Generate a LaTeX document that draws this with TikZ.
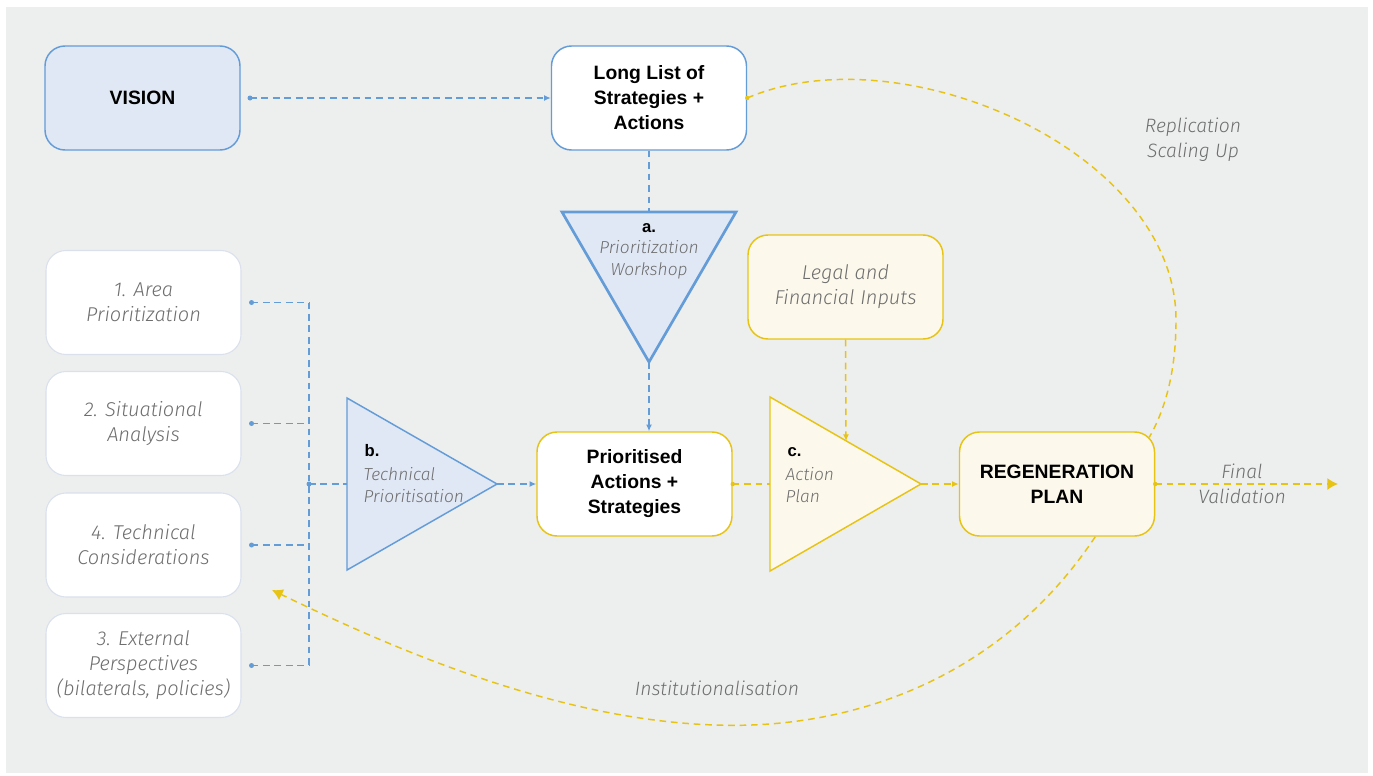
\documentclass[tikz,border=0pt]{standalone}
\usepackage{fontspec}
\setmainfont{Liberation Sans}
\newfontfamily\lightfont{Fira Sans Light}
\usetikzlibrary{arrows.meta,calc}
\definecolor{bgc}{RGB}{237,238,238}
\definecolor{myblue}{RGB}{100,156,216}
\definecolor{lightblue}{RGB}{225,232,245}
\definecolor{myyellow}{RGB}{231,196,20}
\definecolor{cream}{RGB}{252,249,236}
\definecolor{greytext}{RGB}{110,110,110}
\definecolor{paleborder}{RGB}{218,224,236}
\tikzset{
  box/.style={rounded corners=15pt, minimum width=146.25pt, minimum height=78pt, line width=1.1pt, align=center, inner sep=0pt},
  bluebox/.style={box, draw=myblue, fill=lightblue},
  whitebluebox/.style={box, draw=myblue, fill=white},
  palebox/.style={box, draw=paleborder, line width=0.8pt, fill=white},
  yelbox/.style={box, draw=myyellow, fill=cream},
  whiteyelbox/.style={box, draw=myyellow, fill=white},
  bt/.style={font=\bfseries\fontsize{14.5}{18.75}\selectfont, text=black},
  it/.style={font=\lightfont\itshape\fontsize{15}{18.75}\selectfont, text=greytext, align=center},
  lit/.style={font=\lightfont\itshape\fontsize{14.5}{18.75}\selectfont, text=greytext, align=center},
  tit/.style={font=\lightfont\itshape\fontsize{13}{16.5}\selectfont, text=greytext},
  tbt/.style={font=\bfseries\fontsize{12.5}{16.5}\selectfont, text=black},
  bl/.style={draw=myblue, line width=1.1pt, dash pattern=on 5pt off 3.6pt},
  yl/.style={draw=myyellow, line width=1.1pt, dash pattern=on 5pt off 3.6pt},
  btip/.style={-{Latex[length=5pt,width=4.5pt]}},
  ytip/.style={-{Latex[length=5pt,width=4.5pt]}},
  bigytip/.style={-{Latex[length=8pt,width=9pt]}},
}
\begin{document}
\begin{tikzpicture}[x=0.75pt,y=-0.75pt]
\useasboundingbox (0,0) rectangle (1373,775);
\fill[bgc] (6,7) rectangle (1368,773);

% boxes
\node[bluebox, bt] (vision) at (142.5,98) {VISION};
\node[whitebluebox, bt] (long) at (649,98) {Long List of\\Strategies +\\Actions};
\node[palebox, it] (b1) at (143.5,302.5) {1. Area\\Prioritization};
\node[palebox, it] (b2) at (143.5,423.5) {2. Situational\\Analysis};
\node[palebox, it] (b4) at (143.5,545) {4. Technical\\Considerations};
\node[palebox, it] (b3) at (143.5,665.5) {3. External\\Perspectives\\(bilaterals, policies)};
\node[whiteyelbox, bt] (prio) at (634.5,484) {Prioritised\\Actions +\\Strategies};
\node[yelbox, it] (legal) at (845.5,287) {Legal and\\Financial Inputs};
\node[yelbox, bt] (regen) at (1057,484) {REGENERATION\\PLAN};

% triangle a
\draw[myblue, fill=lightblue, line width=2pt, line join=miter] (562,212) -- (736,212) -- (649,362) -- cycle;
\coordinate (atop) at (649,212);
\coordinate (abot) at (649,362);
\node[tbt] (alab) at (649,228) {a.};
\node[tit, align=center] (atxt) at (649,260) {Prioritization\\Workshop};

% triangle b
\draw[myblue, fill=lightblue, line width=1.1pt] (347,398) -- (497,484) -- (347,570) -- cycle;
\coordinate (bleft) at (347,484);
\coordinate (bapex) at (497,484);
\node[tbt, anchor=west] (blab) at (360,451) {b.};
\node[tit, align=left, anchor=west] (btxt) at (359,485) {Technical\\Prioritisation};

% triangle c
\draw[myyellow, fill=cream, line width=1.1pt] (770,397) -- (921,484) -- (770,571) -- cycle;
\coordinate (cleft) at (770,484);
\coordinate (capex) at (921,484);
\coordinate (cedge) at (846,441);
\node[tbt, anchor=west] (clab) at (783,452) {c.};
\node[tit, align=left, anchor=west] (ctxt) at (781,485) {Action\\Plan};

% blue connectors
\fill[myblue] (250,98) circle (2.5);
\draw[bl, btip] (250,98) -- (long.west);
\draw[bl] (long.south) -- (atop);
\draw[bl, btip] (abot) -- (abot |- prio.north);

\coordinate (j1) at (309,302.5);
\coordinate (j2) at (309,423.5);
\coordinate (j4) at (309,545);
\coordinate (j3) at (309,665.5);
\coordinate (jm) at (309,484);
\foreach \b/\j in {b1/j1,b2/j2,b4/j4,b3/j3}{
  \fill[myblue] ([xshift=7.5pt]\b.east) circle (2.5);
  \draw[bl] ([xshift=7.5pt]\b.east) -- (\j);
}
\draw[bl] (j1) -- (j3);
\fill[myblue] (jm) circle (2.5);
\draw[bl] (jm) -- (bleft);
\draw[bl, btip] (bapex) -- (prio.west);

% yellow connectors
\fill[myyellow] (prio.east) circle (2.2);
\draw[yl] (prio.east) -- (cleft);
\draw[yl, ytip] (legal.south) -- (cedge);
\draw[yl, ytip] (capex) -- (regen.west);
\fill[myyellow] (regen.east) circle (2.2);
\coordinate (fin) at (1338,484);
\draw[yl, bigytip] (regen.east) -- (fin);
\node[lit] (final) at (1242,484) {Final\\Validation};

% replication curve
\fill[myyellow] (long.east) circle (2.2);
\coordinate (rmid) at (1176,320);
\draw[yl] (long.east) .. controls (900,32) and (1176,150) .. (rmid)
  .. controls (1176,372) and (1165,410) .. ([shift={(-6,6)}]regen.north east);
\node[lit] (repl) at (1193,139.5) {Replication\\Scaling Up};

% institutionalisation curve
\coordinate (imid) at (715,725);
\coordinate (iend) at (272,590);
\draw[yl, bigytip] ([xshift=-45pt]regen.south east) .. controls (1000,680) and (850,730) .. (imid)
  .. controls (560,720) and (400,652) .. (iend);
\node[lit] (inst) at (717,688) {Institutionalisation};
\end{tikzpicture}
\end{document}
